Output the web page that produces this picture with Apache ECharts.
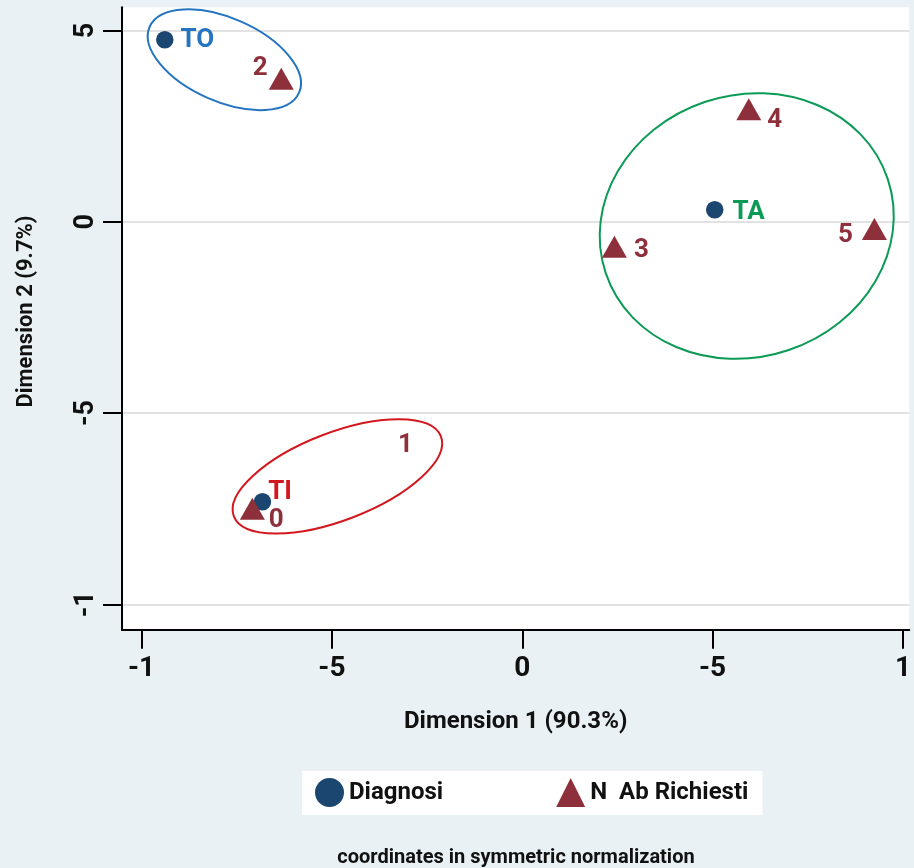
<!DOCTYPE html>
<html>
<head>
<meta charset="utf-8">
<script src="https://cdn.jsdelivr.net/npm/echarts@6/dist/echarts.min.js"></script>
<style>
html,body{margin:0;padding:0;background:#e9f1f4;}
#chart{width:914px;height:868px;}
</style>
</head>
<body>
<div id="chart"></div>
<script>
// ---- data ----
const xTicks = [-1, -0.5, 0, 0.5, 1];
const xTickLabels = ['-1', '-5', '0', '-5', '1'];
const yTicks = [-1, -0.5, 0, 0.5];
const yTickLabels = ['-1', '-5', '0', '5'];

const diagNames = ['TO', 'TA', 'TI'];
const diagX = [-0.939, 0.5055, -0.6825];
const diagY = [0.476, 0.0316, -0.732];

const abNames = ['0', '1', '2', '3', '4', '5'];
const abX = [-0.709, -0.307, -0.633, 0.242, 0.595, 0.925];
const abY = [-0.750, -0.585, 0.374, -0.065, 0.294, -0.019];

// ellipses around groups: centre x, centre y, semi-axis x, semi-axis y, tilt (deg)
const ellNames = ['TO', 'TA', 'TI'];
const ellCX = [-0.7825, 0.5896, -0.4856];
const ellCY = [0.4238, -0.011, -0.6656];
const ellRX = [0.2145, 0.3905, 0.2915];
const ellRY = [0.109, 0.3423, 0.1145];
const ellAngle = [-23.8, 18.4, 21.1];

// ---- styles ----
const groupColors = {TO: '#2474c1', TA: '#0c9b56', TI: '#d2181e'};
const circleColor = '#1b4670';
const triColor = '#8e303b';
const diagLabelPos = {
  TO: {position: 'right', distance: 7, offset: [0, 1]},
  TA: {position: 'right', distance: 9, offset: [0, 3]},
  TI: {position: 'right', distance: -3, offset: [0, -9]}
};
const abLabelPos = {
  '0': {position: 'right', distance: 4, offset: [0, 12]},
  '1': {position: 'inside', distance: 0, offset: [0, 0]},
  '2': {position: 'left', distance: 1, offset: [0, -10]},
  '3': {position: 'right', distance: 7, offset: [0, 4]},
  '4': {position: 'right', distance: 6, offset: [0, 11]},
  '5': {position: 'left', distance: 9, offset: [0, 6]}
};
const FONT = 'Roboto, "Noto Sans", sans-serif';

function tickLabel(ticks, labels) {
  return function (v) {
    for (let i = 0; i < ticks.length; i++) {
      if (Math.abs(ticks[i] - v) < 1e-6) return labels[i];
    }
    return '';
  };
}

const diagData = diagNames.map((n, i) => ({
  name: n,
  value: [diagX[i], diagY[i]],
  label: Object.assign({show: true, formatter: '{b}', color: groupColors[n]}, diagLabelPos[n])
}));
const abData = abNames.map((n, i) => {
  const d = {
    name: n,
    value: [abX[i], abY[i]],
    label: Object.assign({show: true, formatter: '{b}', color: triColor}, abLabelPos[n])
  };
  if (n === '1') {
    d.symbolSize = 1;
    d.itemStyle = {color: 'rgba(0,0,0,0)'};
  }
  return d;
});
const ellData = ellNames.map((n, i) => [ellCX[i], ellCY[i], ellRX[i], ellRY[i], ellAngle[i]]);

const chart = echarts.init(document.getElementById('chart'));
chart.setOption({
  animation: false,
  backgroundColor: '#e9f1f4',
  textStyle: {fontFamily: FONT},
  grid: {
    left: 122, right: 0, top: 7.3, bottom: 238.3,
    show: true, backgroundColor: '#ffffff', borderWidth: 0
  },
  xAxis: {
    type: 'value',
    min: -1.0514, max: 1.0165,
    name: 'Dimension 1 (90.3%)',
    nameLocation: 'middle',
    nameGap: 80,
    nameTextStyle: {fontSize: 24, fontWeight: 'bold', color: '#111', fontFamily: FONT},
    axisLine: {show: true, onZero: false, lineStyle: {color: '#000', width: 2}},
    axisTick: {show: true, length: 19, lineStyle: {color: '#000', width: 2}, customValues: xTicks},
    axisLabel: {
      customValues: xTicks, formatter: tickLabel(xTicks, xTickLabels),
      fontSize: 28, fontWeight: 'bold', color: '#111', margin: 25, fontFamily: FONT
    },
    splitLine: {show: false}
  },
  yAxis: {
    type: 'value',
    min: -1.0664, max: 0.5608,
    name: 'Dimension 2 (9.7%)',
    nameLocation: 'middle',
    nameGap: 85,
    nameRotate: 90,
    nameTextStyle: {fontSize: 22, fontWeight: 'bold', color: '#111', fontFamily: FONT, padding: [0, 0, 0, 14]},
    axisLine: {show: true, onZero: false, lineStyle: {color: '#000', width: 2}},
    axisTick: {show: true, length: 19, lineStyle: {color: '#000', width: 2}, customValues: yTicks},
    axisLabel: {
      customValues: yTicks, formatter: tickLabel(yTicks, yTickLabels),
      rotate: 90, fontSize: 27, fontWeight: 'bold', color: '#111', margin: 22, fontFamily: FONT
    },
    splitLine: {show: true, lineStyle: {color: '#d9d9d9', width: 1.5}}
  },
  legend: {
    left: 302, top: 771,
    backgroundColor: '#ffffff',
    padding: [7, 14, 8, 13],
    itemWidth: 29, itemHeight: 29,
    itemGap: 113,
    textStyle: {fontSize: 24, fontWeight: 'bold', color: '#111', fontFamily: FONT},
    data: [{name: 'Diagnosi', icon: 'circle'}, {name: 'N  Ab Richiesti', icon: 'triangle'}]
  },
  graphic: [{
    type: 'text', x: 516, y: 858,
    style: {
      text: 'coordinates in symmetric normalization',
      fontSize: 20, fontWeight: 'bold', fill: '#111', fontFamily: FONT,
      textAlign: 'center', textVerticalAlign: 'middle'
    }
  }],
  series: [
    {
      type: 'custom',
      name: 'groups',
      silent: true,
      z: 1,
      data: ellData,
      encode: {x: 0, y: 1},
      renderItem: function (params, api) {
        const c = api.coord([api.value(0), api.value(1)]);
        const s = api.size([api.value(2), api.value(3)]);
        return {
          type: 'ellipse',
          x: c[0], y: c[1],
          rotation: api.value(4) * Math.PI / 180,
          shape: {cx: 0, cy: 0, rx: s[0], ry: s[1]},
          style: {fill: 'none', stroke: groupColors[ellNames[params.dataIndex]], lineWidth: 2}
        };
      }
    },
    {
      type: 'scatter',
      name: 'Diagnosi',
      symbol: 'circle',
      symbolSize: 17.5,
      z: 3,
      itemStyle: {color: circleColor, opacity: 1},
      label: {fontSize: 26, fontWeight: 'bold', fontFamily: FONT},
      data: diagData
    },
    {
      type: 'scatter',
      name: 'N  Ab Richiesti',
      symbol: 'triangle',
      symbolSize: [25, 22],
      z: 4,
      itemStyle: {color: triColor, opacity: 1},
      label: {fontSize: 26, fontWeight: 'bold', color: triColor, fontFamily: FONT},
      data: abData
    }
  ]
});
</script>
</body>
</html>
